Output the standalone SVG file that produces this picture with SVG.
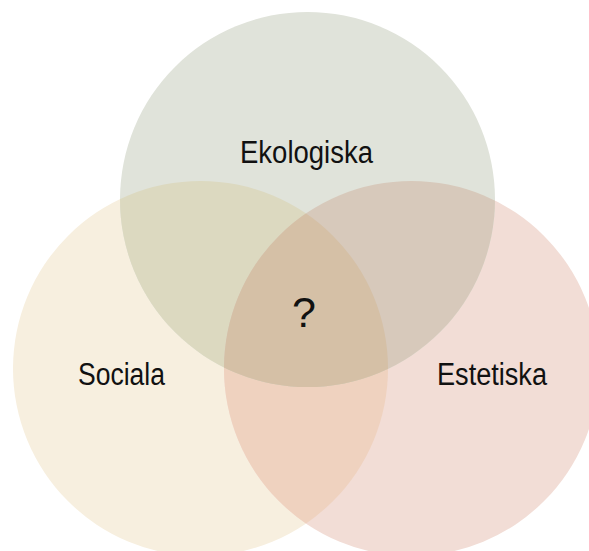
<svg xmlns="http://www.w3.org/2000/svg" width="589" height="551" viewBox="0 0 589 551">
  <style>
    .lbl { font-family: "Liberation Sans", Arial, sans-serif; font-size: 31px; fill: #111111; text-anchor: middle; }
    .q { font-family: "Liberation Sans", Arial, sans-serif; font-size: 43px; fill: #111111; text-anchor: middle; }
  </style>
  <defs>
    <clipPath id="clipTop"><circle cx="307.5" cy="199.5" r="187.5"/></clipPath>
    <clipPath id="clipLeft"><circle cx="200.5" cy="368.5" r="187.5"/></clipPath>
    <clipPath id="clipRight"><circle cx="411.5" cy="368.5" r="187.5"/></clipPath>
  </defs>
  <rect width="589" height="551" fill="#ffffff"/>
  <g id="sociala">
    <circle cx="200.5" cy="368.5" r="187.5" fill="#f7efdf"/>
  </g>
  <g id="estetiska">
    <circle cx="411.5" cy="368.5" r="187.5" fill="#f2ddd6"/>
  </g>
  <g id="ekologiska">
    <circle cx="307.5" cy="199.5" r="187.5" fill="#e0e3da"/>
  </g>
  <g id="overlaps">
    <circle cx="200.5" cy="368.5" r="187.5" fill="#efd2bf" clip-path="url(#clipRight)"/>
    <circle cx="307.5" cy="199.5" r="187.5" fill="#dcd9c0" clip-path="url(#clipLeft)"/>
    <circle cx="307.5" cy="199.5" r="187.5" fill="#d7c9bb" clip-path="url(#clipRight)"/>
    <g clip-path="url(#clipLeft)">
      <circle cx="307.5" cy="199.5" r="187.5" fill="#d5c0a6" clip-path="url(#clipRight)"/>
    </g>
  </g>
  <g id="labels">
    <text class="lbl" x="306.5" y="163" textLength="133" lengthAdjust="spacingAndGlyphs">Ekologiska</text>
    <text class="lbl" x="121.5" y="385" textLength="87" lengthAdjust="spacingAndGlyphs">Sociala</text>
    <text class="lbl" x="492" y="385" textLength="110" lengthAdjust="spacingAndGlyphs">Estetiska</text>
    <text class="q" x="304" y="327">?</text>
  </g>
</svg>
